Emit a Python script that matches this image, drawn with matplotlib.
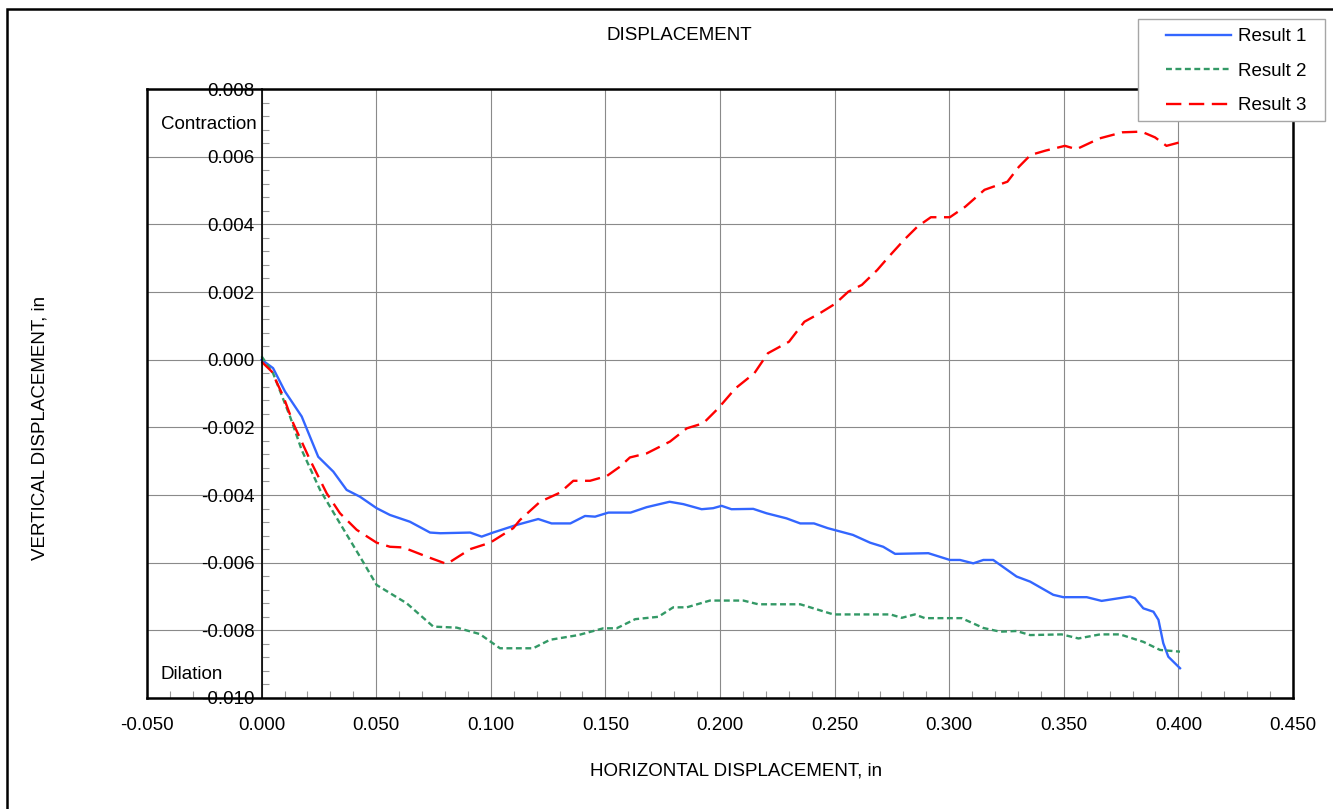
import numpy as np
import matplotlib
matplotlib.use("Agg")
import matplotlib.pyplot as plt
from matplotlib.patches import Rectangle
from matplotlib.ticker import MultipleLocator, FuncFormatter

plt.rcParams["font.family"] = ["Liberation Sans", "DejaVu Sans"]

# ------------------------------------------------------------------
# Data
# ------------------------------------------------------------------
r1_x = [0.000, 0.005, 0.0102, 0.0175, 0.0247, 0.0313, 0.0371, 0.0429, 0.0502, 0.056,
        0.0647, 0.0735, 0.078, 0.091, 0.096, 0.101, 0.111, 0.1207, 0.1265, 0.1347,
        0.1411, 0.1455, 0.1513, 0.161, 0.168, 0.178, 0.184, 0.192, 0.197, 0.2007,
        0.205, 0.2145, 0.2203, 0.229, 0.235, 0.241, 0.247, 0.258, 0.2655, 0.2712,
        0.2764, 0.2909, 0.3003, 0.3047, 0.3105, 0.3149, 0.3192, 0.3294, 0.3353, 0.3454,
        0.3498, 0.360, 0.3665, 0.3789, 0.381, 0.3847, 0.3891, 0.3913, 0.3934, 0.3956,
        0.4007]
r1_y = [0.0000, -0.00025, -0.00094, -0.00168, -0.00287, -0.00331, -0.00385, -0.00405, -0.00439, -0.00459,
        -0.00479, -0.00511, -0.00513, -0.00511, -0.00523, -0.00511, -0.00489, -0.00471, -0.00484, -0.00484,
        -0.00462, -0.00464, -0.00452, -0.00452, -0.00436, -0.00420, -0.00427, -0.00442, -0.00439, -0.00432,
        -0.00442, -0.00441, -0.00454, -0.00469, -0.00484, -0.00484, -0.00498, -0.00518, -0.00541, -0.00553,
        -0.00574, -0.00572, -0.00592, -0.00592, -0.00602, -0.00592, -0.00592, -0.00641, -0.00656, -0.00695,
        -0.00702, -0.00702, -0.00713, -0.00700, -0.00705, -0.00735, -0.00745, -0.00769, -0.00838, -0.00878,
        -0.00912]

r2_x = [0.000, 0.005, 0.0124, 0.0175, 0.0255, 0.0342, 0.0429, 0.0502, 0.0633, 0.0749,
        0.0851, 0.0952, 0.104, 0.1185, 0.1258, 0.1382, 0.1491, 0.1549, 0.163, 0.1731,
        0.1796, 0.1855, 0.1956, 0.2102, 0.2167, 0.235, 0.2495, 0.2744, 0.2793, 0.285,
        0.2894, 0.3054, 0.3149, 0.3222, 0.3294, 0.3353, 0.3491, 0.3564, 0.3658, 0.3745,
        0.3847, 0.392, 0.4007]
r2_y = [0.0001, -0.0004, -0.00168, -0.00267, -0.00385, -0.00484, -0.00582, -0.00666, -0.0072, -0.00789,
        -0.00792, -0.00811, -0.00853, -0.00853, -0.00828, -0.00814, -0.00794, -0.00794, -0.00767, -0.0076,
        -0.00732, -0.00732, -0.00712, -0.00712, -0.00723, -0.00723, -0.00753, -0.00753, -0.00763, -0.00753,
        -0.00764, -0.00764, -0.00793, -0.00804, -0.00802, -0.00814, -0.00812, -0.00824, -0.00812, -0.00812,
        -0.00834, -0.00858, -0.00863]

r3_x = [0.000, 0.0044, 0.0095, 0.0138, 0.0211, 0.0284, 0.0342, 0.0415, 0.0502, 0.056,
        0.0618, 0.072, 0.0808, 0.091, 0.0997, 0.1098, 0.1127, 0.1215, 0.1302, 0.136,
        0.1433, 0.1506, 0.1564, 0.1607, 0.168, 0.1782, 0.1855, 0.1927, 0.1992, 0.2067,
        0.215, 0.2209, 0.2301, 0.2368, 0.2435, 0.2502, 0.256, 0.2619, 0.2686, 0.2736,
        0.2803, 0.2861, 0.292, 0.3003, 0.307, 0.3154, 0.3254, 0.3304, 0.3355, 0.3421,
        0.3505, 0.3555, 0.3656, 0.3756, 0.3839, 0.3898, 0.3948, 0.4015]
r3_y = [-0.00006, -0.00035, -0.00109, -0.00188, -0.00296, -0.00395, -0.00454, -0.00503, -0.00541, -0.00553,
        -0.00555, -0.00582, -0.00604, -0.0056, -0.00541, -0.00498, -0.00474, -0.0042, -0.00393, -0.00358,
        -0.00358, -0.00344, -0.00316, -0.00289, -0.00277, -0.00242, -0.00203, -0.00188, -0.00144, -0.00085,
        -0.0004, 0.00019, 0.00053, 0.00112, 0.00137, 0.00165, 0.00201, 0.00221, 0.00265, 0.00304,
        0.00354, 0.00393, 0.00421, 0.00421, 0.00452, 0.00502, 0.00526, 0.0057, 0.00605, 0.00618,
        0.00632, 0.00622, 0.00654, 0.00672, 0.00674, 0.00657, 0.00632, 0.00644]

series_labels = ["Result 1", "Result 2", "Result 3"]

W, H = 1333, 809
FS = 13.5


def fx(px):
    return px / W


def fy(py):
    return 1 - py / H


fig = plt.figure(figsize=(W / 100, H / 100), dpi=100)

# outer chart border (left/top visible, rest runs off the image)
fig.patches.append(Rectangle((fx(7), fy(H + 10)), 1.1, fy(9) - fy(H + 10),
                             transform=fig.transFigure, fill=False,
                             edgecolor="black", linewidth=1.8))

ax = fig.add_axes([fx(147), fy(698), (1293 - 147) / W, (698 - 89) / H])
ax.set_xlim(-0.05, 0.45)
ax.set_ylim(-0.010, 0.008)

# y axis sits at x = 0, frame drawn separately
ax.spines["left"].set_position(("data", 0))
ax.spines["left"].set_linewidth(1.2)
for side in ("top", "right", "bottom"):
    ax.spines[side].set_linewidth(1.8)
    ax.spines[side].set_color("black")
ax.plot([0, 0], [0, 1], transform=ax.transAxes, color="black", lw=1.8,
        clip_on=False, zorder=5)

ax.xaxis.set_major_locator(MultipleLocator(0.05))
ax.xaxis.set_minor_locator(MultipleLocator(0.01))
ax.yaxis.set_major_locator(MultipleLocator(0.002))
ax.yaxis.set_minor_locator(MultipleLocator(0.0004))

fmt = FuncFormatter(lambda v, _: f"{0.0 if abs(v) < 1e-12 else v:.3f}")
ax.xaxis.set_major_formatter(fmt)
ax.yaxis.set_major_formatter(fmt)

ax.tick_params(which="both", direction="in", labelsize=FS, colors="black")
ax.tick_params(which="major", length=0)
ax.tick_params(axis="x", which="major", pad=14)
ax.tick_params(axis="y", which="major", pad=5)
ax.tick_params(which="minor", length=5, color="#999999", width=0.8)

ax.grid(True, which="major", color="#8a8a8a", linewidth=0.8)
ax.set_axisbelow(True)

ax.plot(r1_x, r1_y, color="#3366FF", lw=1.7, label=series_labels[0])
ax.plot(r2_x, r2_y, color="#339966", lw=1.7, dashes=(2.5, 1.5), label=series_labels[1])
ax.plot(r3_x, r3_y, color="#FF0000", lw=1.7, dashes=(6.5, 3.2), label=series_labels[2])

ax.text(-0.0439, 0.00695, "Contraction", fontsize=FS, va="center", ha="left")
ax.text(-0.0439, -0.0093, "Dilation", fontsize=FS, va="center", ha="left")

fig.text(fx(679), fy(35), "DISPLACEMENT", fontsize=FS, ha="center", va="center")
fig.text(fx(736), fy(771), "HORIZONTAL DISPLACEMENT, in", fontsize=FS,
         ha="center", va="center")
fig.text(fx(40), fy(428), "VERTICAL DISPLACEMENT, in", fontsize=FS,
         rotation=90, ha="center", va="center")

# legend box overlapping the plot frame
frame = Rectangle((fx(1138), fy(121)), (1325 - 1138) / W, (121 - 19) / H,
                  transform=fig.transFigure, facecolor="white",
                  edgecolor="#a6a6a6", linewidth=1.0, zorder=5)
fig.patches.append(frame)
leg = fig.legend(loc="upper left", bbox_to_anchor=(fx(1166), fy(28)),
                 frameon=False, fontsize=FS, borderpad=0, borderaxespad=0,
                 handlelength=3.45, handletextpad=0.4, labelspacing=0.93)
leg.set_zorder(6)

fig.savefig("out.png", dpi=100)
